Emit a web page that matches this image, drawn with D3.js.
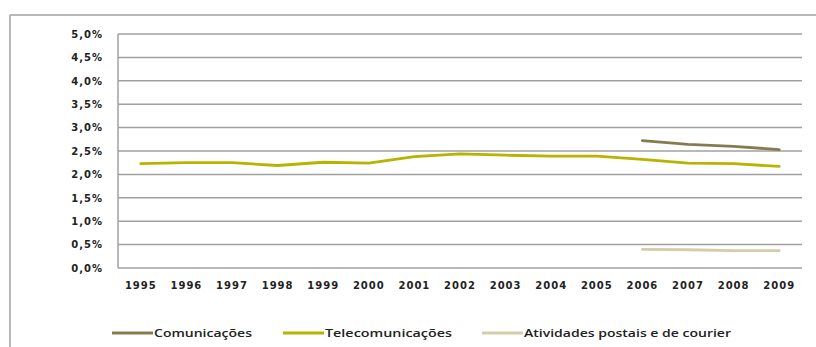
<!DOCTYPE html>
<html><head><meta charset="utf-8">
<script src="https://cdn.jsdelivr.net/npm/d3@7"></script>
<style>body{margin:0;background:#fff}svg{display:block}</style>
</head><body>
<script>
const years = ["1995","1996","1997","1998","1999","2000","2001","2002","2003","2004","2005","2006","2007","2008","2009"];
const telecom = [2.23,2.25,2.25,2.19,2.26,2.24,2.38,2.44,2.41,2.39,2.39,2.32,2.24,2.23,2.17];
const comunic = [null,null,null,null,null,null,null,null,null,null,null,2.72,2.64,2.60,2.53];
const postal = [null,null,null,null,null,null,null,null,null,null,null,0.40,0.39,0.37,0.37];
const yTicks = [0,0.5,1,1.5,2,2.5,3,3.5,4,4.5,5];
const seriesNames = ["Comunicações","Telecomunicações","Atividades postais e de courier"];
const seriesColors = ["#847c50","#b8b300","#d3cea8"];

const W=816,H=347;
const svg=d3.select("body").append("svg").attr("width",W).attr("height",H);
const font="'DejaVu Sans', sans-serif";
// outer frame
svg.append("line").attr("x1",10).attr("x2",W).attr("y1",15).attr("y2",15).attr("stroke","#a0a0a0").attr("stroke-width",1.5);
svg.append("line").attr("x1",10).attr("x2",10).attr("y1",15).attr("y2",H).attr("stroke","#a0a0a0").attr("stroke-width",1.5);

const x=d3.scaleBand().domain(years).range([118,802]);
const y=d3.scaleLinear().domain([0,5]).range([268,34]);

const grid=svg.append("g");
yTicks.forEach(t=>{
  grid.append("line").attr("x1",118).attr("x2",802).attr("y1",y(t)).attr("y2",y(t)).attr("stroke","#a0a0a0").attr("stroke-width",1.5);
});
grid.append("line").attr("x1",118).attr("x2",118).attr("y1",y(5)).attr("y2",y(0)).attr("stroke","#a0a0a0").attr("stroke-width",1.5);

const fmt=d=>d.toFixed(1).replace(".",",")+"%";
const yAxis=svg.append("g").attr("transform","translate(118,0)").call(d3.axisLeft(y).tickValues(yTicks).tickFormat(fmt).tickSize(0).tickPadding(15));
yAxis.select(".domain").remove();
yAxis.selectAll("text").attr("font-family",font).attr("font-weight","bold").attr("font-size",10).attr("letter-spacing",1).attr("fill","#222");

const xAxis=svg.append("g").attr("transform","translate(0,268)").call(d3.axisBottom(x).tickSize(0).tickPadding(14));
xAxis.select(".domain").remove();
xAxis.selectAll("text").attr("font-family",font).attr("font-weight","bold").attr("font-size",10).attr("letter-spacing",1).attr("fill","#222");

const line=d3.line().defined(d=>d!=null).x((d,i)=>x(years[i])+x.bandwidth()/2).y(d=>y(d));
[comunic,telecom,postal].forEach((s,i)=>{
  svg.append("path").datum(s).attr("d",line).attr("fill","none").attr("stroke",seriesColors[i]).attr("stroke-width",2.8).attr("stroke-linecap","round");
});

const legX=[112,283,482];
const legW=[98,127,207];
seriesNames.forEach((n,i)=>{
  svg.append("line").attr("x1",legX[i]).attr("x2",legX[i]+41).attr("y1",333).attr("y2",333).attr("stroke",seriesColors[i]).attr("stroke-width",2.8);
  svg.append("text").attr("x",legX[i]+42).attr("y",337).text(n).attr("font-family","'Open Sans', sans-serif").attr("font-weight",600).attr("font-size",11.5)
    .attr("textLength",legW[i]).attr("lengthAdjust","spacingAndGlyphs").attr("fill","#222");
});
</script>
</body></html>
